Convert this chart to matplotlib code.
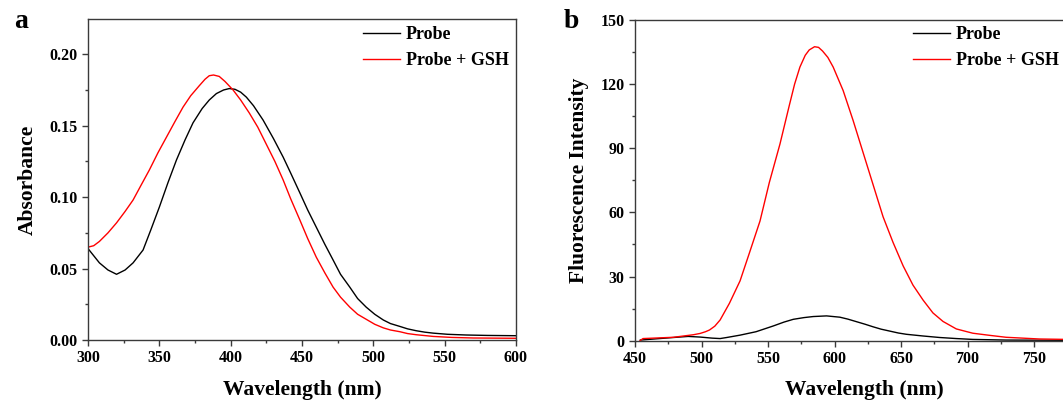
import matplotlib
matplotlib.use("Agg")
import matplotlib.pyplot as plt
from matplotlib.ticker import MultipleLocator, FixedLocator, FixedFormatter, FormatStrFormatter

plt.rcParams['font.family'] = ['Liberation Serif', 'DejaVu Serif']
plt.rcParams['font.weight'] = 'bold'

# Panel a: absorbance
abs_probe_x = [300, 304, 308, 314, 320, 326, 331.6, 338.6, 344, 350, 356, 362, 368, 373.6, 380, 385, 390, 395,
               399, 403, 407, 411, 416, 422.7, 430, 436.8, 442, 448.5, 454, 460, 466, 471.8, 477, 483.5, 489,
               495, 501, 507, 512, 518.6, 524, 530, 536, 542, 552, 565, 580, 600]
abs_probe_y = [0.064, 0.059, 0.054, 0.049, 0.046, 0.049, 0.054, 0.063, 0.077, 0.093, 0.110, 0.126, 0.140,
               0.152, 0.162, 0.168, 0.1725, 0.175, 0.176, 0.1755, 0.1735, 0.170, 0.164, 0.154, 0.141, 0.128,
               0.117, 0.103, 0.091, 0.079, 0.067, 0.056, 0.046, 0.037, 0.029, 0.023, 0.018, 0.014, 0.0115,
               0.0095, 0.0078, 0.0065, 0.0055, 0.0048, 0.004, 0.0035, 0.0032, 0.003]
abs_gsh_x = [300, 304, 308, 314, 320, 326, 331.6, 337, 343, 349, 355, 361, 366.6, 372, 378, 382, 385, 388, 392,
             396, 401.7, 407, 413, 419, 425, 431, 436.8, 442, 448.5, 454, 460, 466, 471.8, 477, 483.5, 489,
             495, 501, 507, 512, 518.6, 524, 530, 542, 555, 570, 600]
abs_gsh_y = [0.065, 0.066, 0.069, 0.075, 0.082, 0.090, 0.098, 0.108, 0.119, 0.131, 0.142, 0.153, 0.163, 0.171,
             0.178, 0.1825, 0.185, 0.1855, 0.1845, 0.181, 0.175, 0.168, 0.159, 0.149, 0.137, 0.125, 0.112,
             0.099, 0.084, 0.071, 0.058, 0.047, 0.037, 0.030, 0.023, 0.018, 0.0145, 0.011, 0.0085, 0.007,
             0.0058, 0.0045, 0.0037, 0.0025, 0.0018, 0.0014, 0.0012]

# Panel b: fluorescence
fl_gsh_x = [453.8, 456, 479, 494, 499, 503, 506, 510, 514, 521, 529, 536, 544, 551, 559, 566, 570, 574, 578,
            581, 585, 588, 591, 595, 599, 606.5, 614, 621.5, 629, 636.5, 644, 651.6, 659, 666.6, 674, 681.6,
            691.6, 704, 716.7, 729, 754, 775]
fl_gsh_y = [0.0, 1.0, 1.6, 2.8, 3.4, 4.2, 5.0, 6.8, 9.7, 17.5, 28, 41, 56, 74, 92, 110, 120, 128, 133.5,
            136, 137.5, 137.2, 135.5, 132.5, 128, 117, 103, 88, 73, 58, 46, 35, 26, 19, 13, 9.0,
            5.5, 3.5, 2.5, 1.6, 0.8, 0.6]
fl_probe_x = [454, 479, 490, 499, 508, 514, 519, 529, 541, 554, 562, 569, 577, 584, 594, 604, 610, 616.5, 623,
              629, 635, 641.5, 648, 654, 666.6, 679, 691.6, 704, 729, 775]
fl_probe_y = [0.3, 1.5, 2.0, 1.7, 1.2, 1.0, 1.5, 2.6, 4.2, 6.9, 8.7, 10.0, 10.8, 11.3, 11.6, 11.0, 10.1, 8.9,
              7.7, 6.5, 5.4, 4.5, 3.6, 3.0, 2.2, 1.5, 1.0, 0.6, 0.3, 0.2]

x_ticks_b = [450, 500, 550, 600, 650, 700, 750, 800]
x_tick_labels_b = ['450', '500', '550', '600', '650', '700', '750', '']

W, H = 1063, 400
fig = plt.figure(figsize=(W / 100, H / 100), dpi=100)

spine_c = '#3a3a3a'
tick_fs = 11.5
label_fs = 15.5
leg_fs = 13


def style(ax):
    for s in ax.spines.values():
        s.set_color(spine_c)
        s.set_linewidth(1.0)
    ax.tick_params(which='both', direction='out', top=False, right=False, color=spine_c,
                   labelsize=tick_fs, width=1.0)
    ax.tick_params(which='major', length=4)
    ax.tick_params(which='minor', length=2.5)
    for lab in ax.get_xticklabels() + ax.get_yticklabels():
        lab.set_fontweight('bold')


leg_kw = dict(loc='upper left', frameon=False, handlelength=2.05, handletextpad=0.33, borderpad=0,
              borderaxespad=0, labelspacing=0.5, prop={'weight': 'bold', 'size': leg_fs})

# Panel a
axa = fig.add_axes([88 / W, 60 / H, (516 - 88) / W, (340 - 19) / H])
axa.plot(abs_probe_x, abs_probe_y, color='black', lw=1.0, label='Probe')
axa.plot(abs_gsh_x, abs_gsh_y, color='red', lw=1.0, label='Probe + GSH')
axa.set_xlim(300, 600)
axa.set_ylim(0, 0.2247)
axa.xaxis.set_major_locator(MultipleLocator(50))
axa.xaxis.set_minor_locator(MultipleLocator(25))
axa.yaxis.set_major_locator(MultipleLocator(0.05))
axa.yaxis.set_minor_locator(MultipleLocator(0.025))
axa.yaxis.set_major_formatter(FormatStrFormatter('%.2f'))
style(axa)
axa.set_xlabel('Wavelength (nm)', fontsize=label_fs, fontweight='bold')
axa.xaxis.set_label_coords(0.5, -0.124)
axa.set_ylabel('Absorbance', fontsize=label_fs, fontweight='bold', labelpad=8)
axa.legend(bbox_to_anchor=(363 / W, 1 - 26 / H), bbox_transform=fig.transFigure, **leg_kw)
fig.text(21 / W, 1 - 21 / H, 'a', fontsize=20, fontweight='bold', ha='center', va='center')

# Panel b (extends past right edge of figure)
right_px = 635 + 350 * (1034 - 635) / 300
axb = fig.add_axes([635 / W, 59.3 / H, (right_px - 635) / W, (340.7 - 20) / H])
axb.plot(fl_probe_x, fl_probe_y, color='black', lw=1.0, label='Probe')
axb.plot(fl_gsh_x, fl_gsh_y, color='red', lw=1.0, label='Probe + GSH')
axb.set_xlim(450, 800)
axb.set_ylim(0, 150)
axb.xaxis.set_major_locator(FixedLocator(x_ticks_b))
axb.xaxis.set_major_formatter(FixedFormatter(x_tick_labels_b))
axb.xaxis.set_minor_locator(MultipleLocator(25))
axb.yaxis.set_major_locator(MultipleLocator(30))
axb.yaxis.set_minor_locator(MultipleLocator(15))
style(axb)
axb.set_xlabel('Wavelength (nm)', fontsize=label_fs, fontweight='bold')
axb.xaxis.set_label_coords((864 - 635) / (right_px - 635), -0.124)
axb.set_ylabel('Fluorescence Intensity', fontsize=label_fs, fontweight='bold', labelpad=8)
axb.legend(bbox_to_anchor=(913 / W, 1 - 26 / H), bbox_transform=fig.transFigure, **leg_kw)
fig.text(571 / W, 1 - 21 / H, 'b', fontsize=20, fontweight='bold', ha='center', va='center')

fig.savefig('out.png', dpi=100)
